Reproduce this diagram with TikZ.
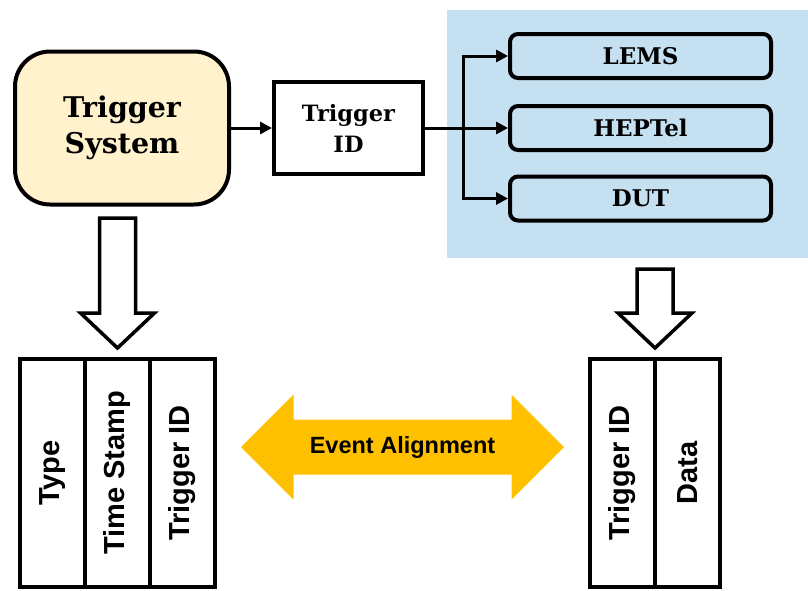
\documentclass[tikz,border=0pt]{standalone}
\usepackage{fontspec}
\setsansfont{Liberation Sans}
\newfontfamily\boxfont{DejaVu Serif}
\usetikzlibrary{arrows.meta,calc,positioning,shapes.arrows}

\definecolor{sysyellow}{RGB}{255,242,204}
\definecolor{daqblue}{RGB}{197,224,240}
\definecolor{alignorange}{RGB}{255,192,0}

\begin{document}
\begin{tikzpicture}[
  x=1pt, y=-1pt,
  line width=4pt,
  blk/.style={draw, align=center, inner sep=0pt},
  sys/.style={blk, fill=sysyellow, rounded corners=35pt, minimum width=214pt, minimum height=153pt,
    font=\boxfont\bfseries\fontsize{28.5}{36}\selectfont},
  idbox/.style={blk, fill=white, minimum width=149pt, minimum height=92pt,
    font=\boxfont\bfseries\fontsize{22.5}{31}\selectfont},
  det/.style={blk, rounded corners=8pt, minimum width=261pt, minimum height=44pt,
    font=\boxfont\bfseries\fontsize{23}{28}\selectfont},
  cell/.style={draw, minimum width=65pt, minimum height=228pt, inner sep=0pt, outer sep=0pt,
    font=\sffamily\bfseries\fontsize{29}{33}\selectfont},
  flow/.style={-{Triangle[length=12pt,width=12pt]}, line width=3pt},
  hollow/.style={draw, fill=white, line width=3.5pt, line join=miter},
  evarrow/.style={double arrow, fill=alignorange, draw=none, minimum height=323pt, minimum width=101pt,
    double arrow head extend=25pt, inner xsep=0pt, inner ysep=14.5pt,
    font=\sffamily\bfseries\fontsize{23.5}{26}\selectfont},
]
\useasboundingbox (0,0) rectangle (808,590);

% ---------------- readout systems (blue area) ----------------
\node[fill=daqblue, minimum width=363pt, minimum height=248pt, inner sep=0pt, anchor=north west]
  (daq) at (445,8) {};
\node[det] (lems)   at (640.5,56)  {LEMS};
\node[det] (heptel) at (640.5,128) {HEPTel};
\node[det] (dut)    at (640.5,198.5) {DUT};

% ---------------- trigger side ----------------
\node[sys]   (trig) at (122,128)   {Trigger\\System};
\node[idbox] (tid)  at (348.5,128) {Trigger\\ID};

\draw[flow] (trig.east) -- (tid.west);
\coordinate (split) at ($(tid.east)!0.46!(heptel.west)$);
\draw[flow] (tid.east) -- (heptel.west);
\draw[flow] (split) |- (lems.west);
\draw[flow] (split) |- (dut.west);

% ---------------- event records ----------------
\node[cell] (type) at (52.5,473) {\rotatebox{90}{Type}};
\node[cell, right=0pt of type] (tstamp) {\rotatebox{90}{Time Stamp}};
\node[cell, right=0pt of tstamp] (trigid) {\rotatebox{90}{Trigger ID}};

\node[cell] (dtrigid) at (622.5,473) {\rotatebox{90}{Trigger ID}};
\node[cell, right=0pt of dtrigid] (data) {\rotatebox{90}{Data}};

% hollow arrows down to the records
\path (tstamp.north) ++(0,-11) coordinate (ltip);
\path ($(dtrigid.north east)!0.5!(data.north west)$) ++(0,-11) coordinate (rtip);
\foreach \tip/\len in {ltip/95, rtip/44} {
  \draw[hollow] (\tip) -- ++(-37,-35) -- ++(19,0) -- ++(0,-\len) -- ++(36,0)
    -- ++(0,\len) -- ++(19,0) -- cycle;
}

% alignment between both records
\node[evarrow] (evalign) at (402.5,447) {Event Alignment};

\end{tikzpicture}
\end{document}
